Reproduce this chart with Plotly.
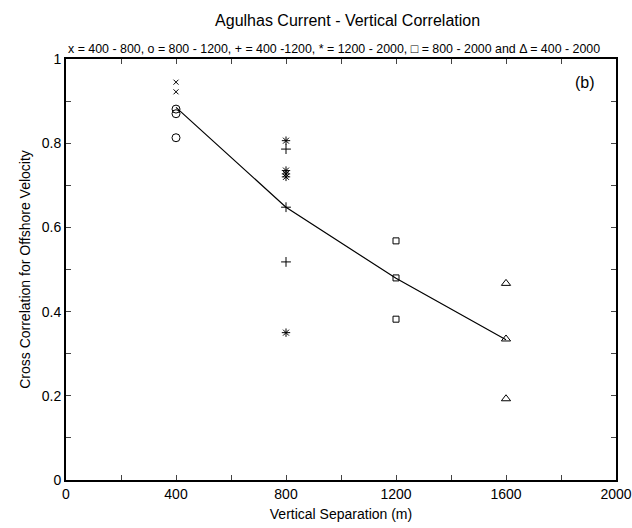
import plotly.graph_objects as go

# data
x_400_800 = [400, 400]
y_400_800 = [0.945, 0.922]
x_800_1200 = [400, 400, 400]
y_800_1200 = [0.881, 0.870, 0.813]
x_400_1200 = [800, 800, 800]
y_400_1200 = [0.786, 0.648, 0.518]
x_1200_2000 = [800, 800, 800, 800, 800]
y_1200_2000 = [0.806, 0.735, 0.727, 0.720, 0.350]
x_800_2000 = [1200, 1200, 1200]
y_800_2000 = [0.568, 0.480, 0.382]
x_400_2000 = [1600, 1600, 1600]
y_400_2000 = [0.467, 0.335, 0.193]
line_x = [400, 800, 1200, 1600]
line_y = [0.885, 0.648, 0.479, 0.333]
x_ticks = [0, 400, 800, 1200, 1600, 2000]

fig = go.Figure()
fig.add_trace(go.Scatter(x=line_x, y=line_y, mode="lines",
                         line=dict(color="black", width=1.2), showlegend=False))

def add(xs, ys, sym, size):
    fig.add_trace(go.Scatter(x=xs, y=ys, mode="markers", showlegend=False,
                             marker=dict(symbol=sym, size=size, color="black",
                                         line=dict(color="black", width=1))))

add(x_400_800, y_400_800, "x-thin", 5)
add(x_800_1200, y_800_1200, "circle-open", 8)
add(x_400_1200, y_400_1200, "cross-thin", 7)
add(x_1200_2000, y_1200_2000, "asterisk", 7)
add(x_800_2000, y_800_2000, "square-open", 6)
add(x_400_2000, y_400_2000, "triangle-up-open", 8)

font = "Liberation Sans, Arial, Helvetica, sans-serif"
fig.update_layout(
    width=632, height=528,
    margin=dict(l=66, r=16, t=59, b=48),
    paper_bgcolor="white", plot_bgcolor="white",
    font=dict(family=font, color="black", size=14),
    title=dict(text="Agulhas Current - Vertical Correlation", x=0.55, xanchor="center",
               y=0.962, yanchor="middle", font=dict(size=16)),
    annotations=[
        dict(text="x = 400 - 800, o = 800 - 1200, + = 400 -1200, * = 1200 - 2000, \u25a1 = 800 - 2000 and \u0394 = 400 - 2000",
             xref="paper", yref="paper", x=0.487, y=1.0, yanchor="bottom", yshift=1,
             showarrow=False, font=dict(size=12.4)),
        dict(text="(b)", xref="paper", yref="paper", x=0.965, y=0.97, xanchor="right",
             yanchor="top", showarrow=False, font=dict(size=16)),
    ],
    xaxis=dict(range=[0, 2000], tickvals=x_ticks, ticks="inside", ticklen=5,
               ticklabeloverflow="allow", automargin=False,
               showline=True, linecolor="black", linewidth=2, mirror="ticks",
               showgrid=False, zeroline=False, tickfont=dict(size=14),
               minor=dict(dtick=200, tick0=0, ticks="inside", ticklen=5),
               title=dict(text="Vertical Separation (m)", font=dict(size=14), standoff=8)),
    yaxis=dict(range=[0, 1], dtick=0.2, tick0=0, ticks="inside", ticklen=5,
               automargin=False,
               showline=True, linecolor="black", linewidth=2, mirror="ticks",
               showgrid=False, zeroline=False, tickfont=dict(size=14),
               minor=dict(dtick=0.1, ticks="inside", ticklen=5),
               title=dict(text="Cross Correlation for Offshore Velocity", font=dict(size=14), standoff=8)),
)
fig.write_html("out.html")
